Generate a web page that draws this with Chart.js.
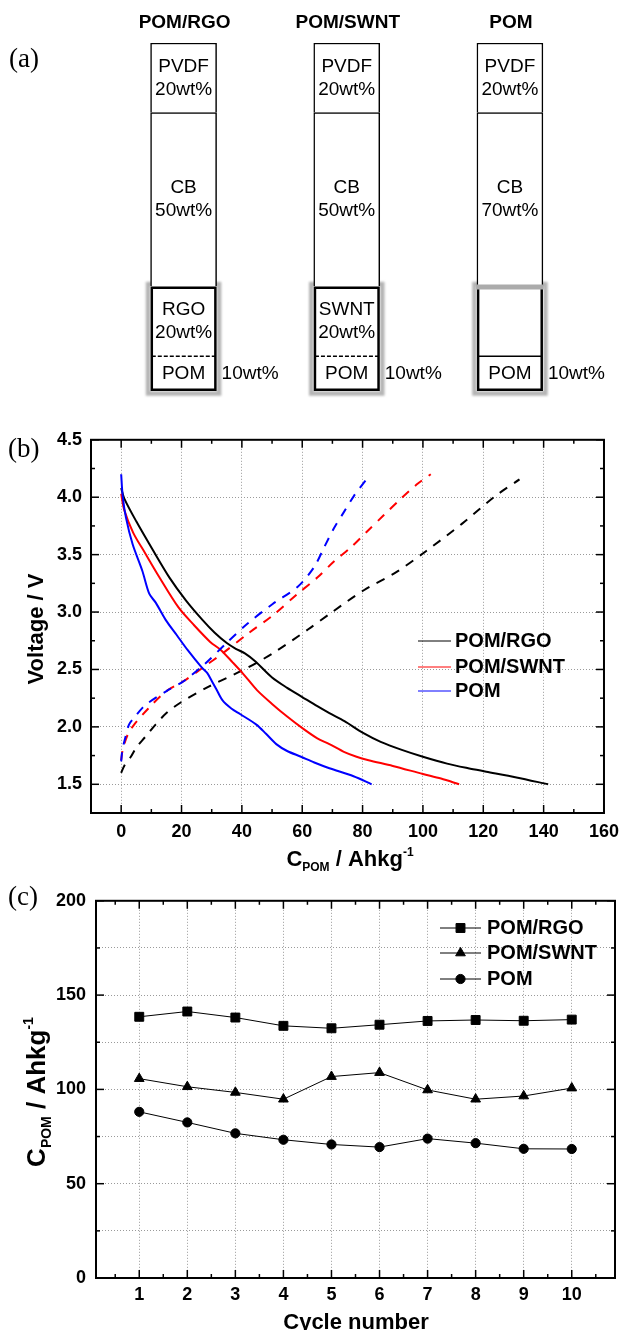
<!DOCTYPE html>
<html>
<head>
<meta charset="utf-8">
<script src="https://cdn.jsdelivr.net/npm/chart.js@4.4.1/dist/chart.umd.min.js"></script>
<style>
  body { margin: 0; background: #fff; }
  #wrap { position: relative; width: 627px; height: 1330px; overflow: hidden; background: #fff; }
  canvas { position: absolute; left: 0; }
</style>
</head>
<body>
<div id="wrap">
  <canvas id="chartA" width="627" height="420" style="top:0"></canvas>
  <canvas id="chartB" width="627" height="460" style="top:420px"></canvas>
  <canvas id="chartC" width="627" height="450" style="top:880px"></canvas>
</div>
<script>
// ---- (a) electrode composition, wt% per layer (bottom to top)
const columns = ['POM/RGO', 'POM/SWNT', 'POM'];
const pomWt = [10, 10, 10];
const carbonWt = [20, 20, 20];
const cbWt = [50, 50, 50];
const pvdfWt = [20, 20, 20];
const pomText = [['POM'], ['POM'], ['POM']];
const carbonText = [['RGO', '20wt%'], ['SWNT', '20wt%'], []];
const cbText = [['CB', '50wt%'], ['CB', '50wt%'], ['CB', '70wt%']];
const pvdfText = [['PVDF', '20wt%'], ['PVDF', '20wt%'], ['PVDF', '20wt%']];
const pomNote = '10wt%';

// ---- (b) discharge (solid) and charge (dashed) curves, capacity Ah/kg vs V
const rgoDisX = [0, 1, 5, 10.5, 16, 21.5, 27, 31, 35, 38, 41, 44.5, 50, 55, 60, 65, 69, 74, 80, 86, 93, 100, 108, 115, 121, 131, 141.5];
const rgoDisV = [4.08, 3.99, 3.79, 3.54, 3.30, 3.10, 2.93, 2.82, 2.73, 2.68, 2.64, 2.57, 2.43, 2.34, 2.26, 2.18, 2.12, 2.05, 1.95, 1.87, 1.80, 1.74, 1.68, 1.64, 1.61, 1.56, 1.50];
const swntDisX = [0, 1, 4, 8, 12.5, 19, 24, 29.5, 33, 37, 40.5, 45, 50, 55, 60.5, 65, 69, 74, 78, 82, 90, 100, 106, 112];
const swntDisV = [4.03, 3.89, 3.69, 3.51, 3.31, 3.04, 2.89, 2.74, 2.67, 2.56, 2.46, 2.32, 2.20, 2.09, 1.98, 1.90, 1.85, 1.78, 1.74, 1.71, 1.66, 1.59, 1.55, 1.50];
const pomDisX = [0, 0.5, 1.6, 3.8, 7, 9.3, 11.5, 14.8, 18.4, 22, 26.6, 28.5, 30.2, 31.5, 33.6, 36.5, 39.5, 44.8, 48, 51.4, 55, 59.6, 64, 69, 77, 83];
const pomDisV = [4.20, 4.01, 3.82, 3.59, 3.36, 3.16, 3.08, 2.93, 2.80, 2.67, 2.52, 2.47, 2.39, 2.33, 2.23, 2.16, 2.11, 2.02, 1.94, 1.85, 1.79, 1.74, 1.69, 1.64, 1.57, 1.50];
const rgoChgX = [0, 1, 3.2, 5, 7.9, 11.4, 15, 19.6, 29, 40.8, 50.2, 62, 69.4, 80.4, 91.3, 101, 113, 124, 132];
const rgoChgV = [1.60, 1.66, 1.74, 1.82, 1.91, 2.02, 2.12, 2.21, 2.35, 2.50, 2.64, 2.85, 2.99, 3.19, 3.35, 3.53, 3.77, 4.01, 4.155];
const swntChgX = [0, 0.5, 1.4, 2.5, 4.3, 9, 14.9, 20.8, 27.8, 33.6, 41.9, 50.2, 58.5, 65, 70.5, 76, 81.4, 86.9, 92.4, 97.9, 102.6];
const swntChgV = [1.71, 1.80, 1.88, 1.95, 2.02, 2.16, 2.31, 2.40, 2.53, 2.64, 2.81, 2.97, 3.16, 3.30, 3.44, 3.56, 3.70, 3.84, 3.98, 4.11, 4.20];
const pomChgX = [0, 0.4, 1.4, 2.6, 4.3, 7.2, 9, 14.9, 20.8, 27.8, 34.9, 41.9, 50.2, 58.5, 63.9, 67.2, 70.5, 73.8, 77.1, 81.4];
const pomChgV = [1.70, 1.80, 1.91, 2.02, 2.08, 2.17, 2.21, 2.31, 2.40, 2.55, 2.73, 2.90, 3.07, 3.22, 3.39, 3.56, 3.73, 3.87, 4.01, 4.16];
const capTicks = [0, 20, 40, 60, 80, 100, 120, 140, 160];
const capMinor = [10, 30, 50, 70, 90, 110, 130, 150];
const voltTicks = [1.5, 2.0, 2.5, 3.0, 3.5, 4.0, 4.5];
const voltMinor = [1.75, 2.25, 2.75, 3.25, 3.75, 4.25];

// ---- (c) capacity vs cycle number
const cycles = [1, 2, 3, 4, 5, 6, 7, 8, 9, 10];
const rgoCycle = [138.5, 141.3, 138.1, 133.7, 132.4, 134.3, 136.3, 136.8, 136.4, 137.0];
const swntCycle = [105.7, 101.4, 98.4, 94.8, 106.8, 108.9, 99.7, 94.8, 96.5, 100.7];
const pomCycle = [88.1, 82.5, 76.7, 73.3, 70.8, 69.4, 73.9, 71.5, 68.5, 68.4];
const cycleMinor = [0.5, 1.5, 2.5, 3.5, 4.5, 5.5, 6.5, 7.5, 8.5, 9.5, 10.5];
const capTicksC = [0, 25, 50, 75, 100, 125, 150, 175, 200];
const capMajorC = [0, 50, 100, 150, 200];
const capMinorC = [25, 75, 125, 175];

const SANS = "'Liberation Sans', Arial, sans-serif";
const SERIF = "'Liberation Serif', 'Times New Roman', serif";
Chart.defaults.font.family = SANS;
Chart.defaults.color = '#000';

const series = (xs, ys) => xs.map((x, i) => ({ x: x, y: ys[i] }));

function drawRich(ctx, item) {
  ctx.save();
  ctx.translate(item.x, item.y);
  if (item.rotate) ctx.rotate(-Math.PI / 2);
  ctx.fillStyle = '#000';
  ctx.textBaseline = 'alphabetic';
  ctx.textAlign = 'left';
  let total = 0;
  item.parts.forEach(p => { ctx.font = p.font; total += ctx.measureText(p.text).width; });
  let cx = item.align === 'left' ? 0 : -total / 2;
  item.parts.forEach(p => {
    ctx.font = p.font;
    ctx.fillText(p.text, cx, p.dy || 0);
    cx += ctx.measureText(p.text).width;
  });
  ctx.restore();
}

const textPlugin = {
  id: 'texts',
  afterDraw(chart, args, opts) {
    opts.items.forEach(it => drawRich(chart.ctx, it));
  }
};

// box + inward ticks on all four sides
const framePlugin = {
  id: 'frame',
  afterDatasetsDraw(chart, args, o) {
    const { ctx, chartArea: a } = chart;
    const xs = chart.scales.x, ys = chart.scales.y;
    ctx.save();
    ctx.strokeStyle = '#000';
    const seg = (x1, y1, x2, y2) => { ctx.beginPath(); ctx.moveTo(x1, y1); ctx.lineTo(x2, y2); ctx.stroke(); };
    ctx.lineWidth = 1.5;
    const xt = (vals, len) => vals.forEach(v => {
      const p = xs.getPixelForValue(v);
      seg(p, a.bottom, p, a.bottom - len); seg(p, a.top, p, a.top + len);
    });
    const yt = (vals, len) => vals.forEach(v => {
      const p = ys.getPixelForValue(v);
      seg(a.left, p, a.left + len, p); seg(a.right, p, a.right - len, p);
    });
    xt(o.xMajor, 8); xt(o.xMinor, 4);
    yt(o.yMajor, 8); yt(o.yMinor, 4);
    ctx.lineWidth = 2;
    ctx.strokeRect(a.left, a.top, a.right - a.left, a.bottom - a.top);
    ctx.restore();
  }
};

const legendPlugin = {
  id: 'miniLegend',
  afterDraw(chart, args, o) {
    const ctx = chart.ctx;
    const shown = chart.data.datasets.filter(d => !d.borderDash);
    shown.forEach((d, i) => {
      const y = o.rows[i];
      ctx.save();
      ctx.strokeStyle = d.borderColor;
      ctx.lineWidth = d.borderWidth;
      ctx.beginPath(); ctx.moveTo(o.x, y); ctx.lineTo(o.x + o.len, y); ctx.stroke();
      if (o.markers) {
        ctx.fillStyle = '#000';
        ctx.lineWidth = 1;
        Chart.helpers.drawPoint(ctx, { pointStyle: d.pointStyle, radius: d.pointRadius, borderWidth: 1, rotation: 0 }, o.x + o.len / 2, y);
      }
      ctx.fillStyle = '#000';
      ctx.font = o.font;
      ctx.textBaseline = 'middle';
      ctx.fillText(d.label, o.textX, y);
      ctx.restore();
    });
  }
};

const cpomTitle = (big, small) => [
  { text: 'C', font: 'bold ' + big + 'px ' + SANS },
  { text: 'POM', font: 'bold ' + small + 'px ' + SANS, dy: small * 0.42 },
  { text: ' / Ahkg', font: 'bold ' + big + 'px ' + SANS },
  { text: '-1', font: 'bold ' + small + 'px ' + SANS, dy: -big * 0.45 }
];

// ================= (a) =================
const layerPlugin = {
  id: 'layers',
  beforeDatasetsDraw(chart) {
    const ctx = chart.ctx;
    const pm = chart.getDatasetMeta(0).data, cm = chart.getDatasetMeta(1).data;
    ctx.save();
    ctx.strokeStyle = '#b4b4b4';
    ctx.lineWidth = 4.5;
    ctx.filter = 'blur(1px)';
    pm.forEach((el, j) => {
      const b = el.getProps(['x', 'y', 'base', 'width'], true);
      const top = cm[j].getProps(['y'], true).y;
      ctx.strokeRect(b.x - b.width / 2 - 2.5, top - 2.5, b.width + 5, b.base - top + 5);
    });
    ctx.restore();
  },
  afterDatasetsDraw(chart) {
    const ctx = chart.ctx;
    const pm = chart.getDatasetMeta(0).data, cm = chart.getDatasetMeta(1).data;
    ctx.save();
    pm.forEach((el, j) => {
      const b = el.getProps(['x', 'y', 'base', 'width'], true);
      const top = cm[j].getProps(['y'], true).y;
      const l = b.x - b.width / 2 + 1.2, r = b.x + b.width / 2 - 1.2, bot = b.base - 1.2;
      ctx.strokeStyle = '#000';
      ctx.lineWidth = 2.5;
      ctx.beginPath();
      if (carbonText[j].length) {
        ctx.moveTo(l, top + 1.2); ctx.lineTo(l, bot); ctx.lineTo(r, bot); ctx.lineTo(r, top + 1.2); ctx.closePath();
      } else {
        ctx.moveTo(l, top); ctx.lineTo(l, bot); ctx.lineTo(r, bot); ctx.lineTo(r, top);
      }
      ctx.stroke();
      if (!carbonText[j].length) {
        ctx.strokeStyle = '#ababab';
        ctx.lineWidth = 5;
        ctx.beginPath(); ctx.moveTo(l - 2, top + 0.5); ctx.lineTo(r + 2, top + 0.5); ctx.stroke();
      }
      // separator between carbon layer and POM layer
      ctx.strokeStyle = '#000';
      ctx.lineWidth = 1.5;
      ctx.setLineDash(carbonText[j].length ? [4, 2] : []);
      ctx.beginPath(); ctx.moveTo(l, b.y); ctx.lineTo(r, b.y); ctx.stroke();
      ctx.setLineDash([]);
    });
    // layer labels
    const texts = [pomText, carbonText, cbText, pvdfText];
    ctx.fillStyle = '#000';
    ctx.textAlign = 'center';
    ctx.textBaseline = 'middle';
    ctx.font = '19px ' + SANS;
    texts.forEach((tx, i) => {
      chart.getDatasetMeta(i).data.forEach((el, j) => {
        const b = el.getProps(['x', 'y', 'base'], true);
        const lines = tx[j];
        const mid = (b.y + b.base) / 2;
        lines.forEach((s, k) => ctx.fillText(s, b.x, mid + (k - (lines.length - 1) / 2) * 23));
      });
    });
    ctx.textAlign = 'left';
    pm.forEach(el => {
      const b = el.getProps(['x', 'y', 'base', 'width'], true);
      ctx.fillText(pomNote, b.x + b.width / 2 + 5, (b.y + b.base) / 2);
    });
    ctx.font = 'bold 19px ' + SANS;
    ctx.textAlign = 'center';
    pm.forEach((el, j) => ctx.fillText(columns[j], el.x + 1, 23));
    ctx.restore();
  }
};

new Chart(document.getElementById('chartA'), {
  type: 'bar',
  data: {
    labels: columns,
    datasets: [
      { label: 'POM', data: pomWt, backgroundColor: '#fff', borderWidth: 0 },
      { label: 'carbon', data: carbonWt, backgroundColor: '#fff', borderWidth: 0 },
      { label: 'CB', data: cbWt, backgroundColor: '#fff', borderColor: '#000', borderWidth: 1.5, borderSkipped: 'bottom' },
      { label: 'PVDF', data: pvdfWt, backgroundColor: '#fff', borderColor: '#000', borderWidth: 1.5, borderSkipped: 'bottom' }
    ]
  },
  options: {
    responsive: false,
    animation: false,
    events: [],
    layout: { padding: { left: 102, right: 35.5, top: 43, bottom: 29 } },
    datasets: { bar: { barThickness: 66 } },
    scales: {
      x: { stacked: true, display: false },
      y: { stacked: true, display: false, min: 0, max: 100 }
    },
    plugins: {
      legend: { display: false },
      tooltip: { enabled: false },
      texts: { items: [{ parts: [{ text: '(a)', font: '27px ' + SERIF }], x: 9, y: 67, align: 'left' }] }
    }
  },
  plugins: [layerPlugin, textPlugin]
});

// ================= (b) =================
const gridStyle = { color: '#9a9a9a', lineWidth: 1, drawTicks: false };
const borderStyle = { display: false, dash: [1, 2] };
const tickFont = { size: 18, weight: 'bold' };

new Chart(document.getElementById('chartB'), {
  type: 'line',
  data: {
    datasets: [
      { label: 'POM/RGO', data: series(rgoDisX, rgoDisV), borderColor: '#000', order: 2 },
      { label: 'POM/SWNT', data: series(swntDisX, swntDisV), borderColor: '#ff0000', order: 1 },
      { label: 'POM', data: series(pomDisX, pomDisV), borderColor: '#0000ff', order: 0 },
      { label: 'POM/RGO charge', data: series(rgoChgX, rgoChgV), borderColor: '#000', borderDash: [9, 8], order: 2 },
      { label: 'POM/SWNT charge', data: series(swntChgX, swntChgV), borderColor: '#ff0000', borderDash: [9, 8], order: 1 },
      { label: 'POM charge', data: series(pomChgX, pomChgV), borderColor: '#0000ff', borderDash: [9, 8], order: 0 }
    ]
  },
  options: {
    responsive: false,
    animation: false,
    events: [],
    layout: { padding: { left: 0, right: 17, top: 13, bottom: 0 } },
    elements: {
      point: { radius: 0 },
      line: { borderWidth: 2, tension: 0.3, fill: false }
    },
    scales: {
      x: {
        type: 'linear', min: -10, max: 160,
        afterFit: s => { s.height = 67; },
        afterBuildTicks: s => { s.ticks = capTicks.map(v => ({ value: v })); },
        grid: gridStyle, border: borderStyle,
        ticks: { font: tickFont, padding: 8, autoSkip: false, maxRotation: 0 }
      },
      y: {
        type: 'linear', min: 1.25, max: 4.5,
        afterFit: s => { s.width = 91; },
        afterBuildTicks: s => { s.ticks = voltTicks.map(v => ({ value: v })); },
        grid: gridStyle, border: borderStyle,
        ticks: { font: tickFont, padding: 9, callback: v => v.toFixed(1) }
      }
    },
    plugins: {
      legend: { display: false },
      tooltip: { enabled: false },
      frame: { xMajor: capTicks, xMinor: capMinor, yMajor: voltTicks, yMinor: voltMinor },
      miniLegend: { x: 418, len: 33, textX: 455, rows: [221, 247, 271], font: 'bold 20px ' + SANS, markers: false },
      texts: {
        items: [
          { parts: [{ text: '(b)', font: '27px ' + SERIF }], x: 8, y: 37, align: 'left' },
          { parts: cpomTitle(22, 12), x: 350, y: 446 },
          { parts: [{ text: 'Voltage / V', font: 'bold 22px ' + SANS }], x: 43, y: 209, rotate: true }
        ]
      }
    }
  },
  plugins: [framePlugin, legendPlugin, textPlugin]
});

// ================= (c) =================
const cycleLine = { borderColor: '#000', borderWidth: 1, backgroundColor: '#000', pointBackgroundColor: '#000', pointBorderColor: '#000', pointBorderWidth: 1 };

new Chart(document.getElementById('chartC'), {
  type: 'line',
  data: {
    datasets: [
      Object.assign({ label: 'POM/RGO', data: series(cycles, rgoCycle), pointStyle: 'rect', pointRadius: 6.3 }, cycleLine),
      Object.assign({ label: 'POM/SWNT', data: series(cycles, swntCycle), pointStyle: 'triangle', pointRadius: 5.6 }, cycleLine),
      Object.assign({ label: 'POM', data: series(cycles, pomCycle), pointStyle: 'circle', pointRadius: 4.6 }, cycleLine)
    ]
  },
  options: {
    responsive: false,
    animation: false,
    events: [],
    layout: { padding: { left: 0, right: 12, top: 16, bottom: 0 } },
    elements: { line: { tension: 0, fill: false } },
    scales: {
      x: {
        type: 'linear', min: 0.1, max: 10.9,
        afterFit: s => { s.height = 52; },
        afterBuildTicks: s => { s.ticks = cycles.map(v => ({ value: v })); },
        grid: gridStyle, border: borderStyle,
        ticks: { font: tickFont, padding: 6, autoSkip: false, maxRotation: 0 }
      },
      y: {
        type: 'linear', min: 0, max: 200,
        afterFit: s => { s.width = 96; },
        afterBuildTicks: s => { s.ticks = capTicksC.map(v => ({ value: v })); },
        grid: gridStyle, border: borderStyle,
        ticks: { font: tickFont, padding: 10, callback: v => (v % 50 === 0 ? String(v) : '') }
      }
    },
    plugins: {
      legend: { display: false },
      tooltip: { enabled: false },
      frame: { xMajor: cycles, xMinor: cycleMinor, yMajor: capMajorC, yMinor: capMinorC },
      miniLegend: { x: 440, len: 41, textX: 487, rows: [48, 73, 99], font: 'bold 20px ' + SANS, markers: true },
      texts: {
        items: [
          { parts: [{ text: '(c)', font: '27px ' + SERIF }], x: 8, y: 25, align: 'left' },
          { parts: [{ text: 'Cycle number', font: 'bold 22px ' + SANS }], x: 356, y: 449 },
          { parts: cpomTitle(26, 14), x: 45, y: 212, rotate: true }
        ]
      }
    }
  },
  plugins: [framePlugin, legendPlugin, textPlugin]
});
</script>
</body>
</html>
